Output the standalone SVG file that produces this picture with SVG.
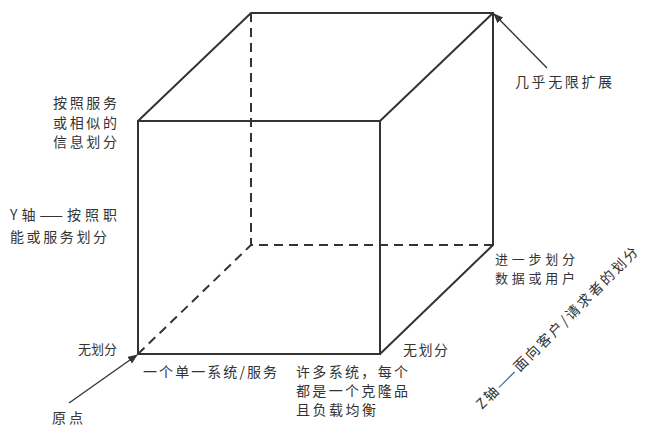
<svg xmlns="http://www.w3.org/2000/svg" width="656" height="440" viewBox="0 0 656 440">
<defs>
<marker id="arr" markerWidth="10" markerHeight="8" refX="9" refY="4" orient="auto" markerUnits="userSpaceOnUse">
<path d="M0,0 L10,4 L0,8 Z" fill="#333"/>
</marker>
<style>
.e{stroke:#333;stroke-width:2;fill:none}
.d{stroke:#333;stroke-width:2;fill:none;stroke-dasharray:9,6}
.a{stroke:#333;stroke-width:1.3;fill:none}
text{font-family:"Noto Sans CJK SC","Liberation Serif",serif;font-size:14px;fill:#333}
.s{font-size:13px}
</style>
</defs>
<rect width="656" height="440" fill="#fff"/>
<g id="cube">
<path class="d" d="M251,13 V245 H493 M138,354 L251,245"/>
<path class="e" d="M138,121 H380 V354 H138 Z M138,121 L251,13 H493 V245 L380,354 M380,121 L493,13"/>
</g>
<g id="connectors">
<line class="a" x1="69" y1="403" x2="137" y2="355" marker-end="url(#arr)"/>
<line class="a" x1="547" y1="68" x2="494" y2="14" marker-end="url(#arr)"/>
</g>
<g id="label-y-top">
<text x="53" y="108" textLength="64">按照服务</text>
<text x="53" y="128" textLength="64">或相似的</text>
<text x="53" y="147" textLength="64">信息划分</text>
</g>
<g id="label-y-axis">
<text x="10" y="220" textLength="107">Y轴——按照职</text>
<text x="10" y="242" textLength="97">能或服务划分</text>
</g>
<g id="label-origin-none"><text x="78" y="354" textLength="39" class="s">无划分</text></g>
<g id="label-origin"><text x="52" y="423" textLength="31">原点</text></g>
<g id="label-x-single"><text x="143" y="377" textLength="134">一个单一系统/服务</text></g>
<g id="label-x-many">
<text x="296" y="377" textLength="112">许多系统，每个</text>
<text x="296" y="396" textLength="112">都是一个克隆品</text>
<text x="296" y="415" textLength="80">且负载均衡</text>
</g>
<g id="label-z-none"><text x="403" y="355" textLength="45">无划分</text></g>
<g id="label-z-further">
<text x="495" y="264" textLength="80" class="s">进一步划分</text>
<text x="495" y="283" textLength="80" class="s">数据或用户</text>
</g>
<g id="label-infinite"><text x="515" y="87" textLength="97">几乎无限扩展</text></g>
<g id="label-z-axis"><text x="557" y="333" text-anchor="middle" textLength="222" transform="rotate(-45 557 328)">Z轴——面向客户/请求者的划分</text></g>
</svg>
